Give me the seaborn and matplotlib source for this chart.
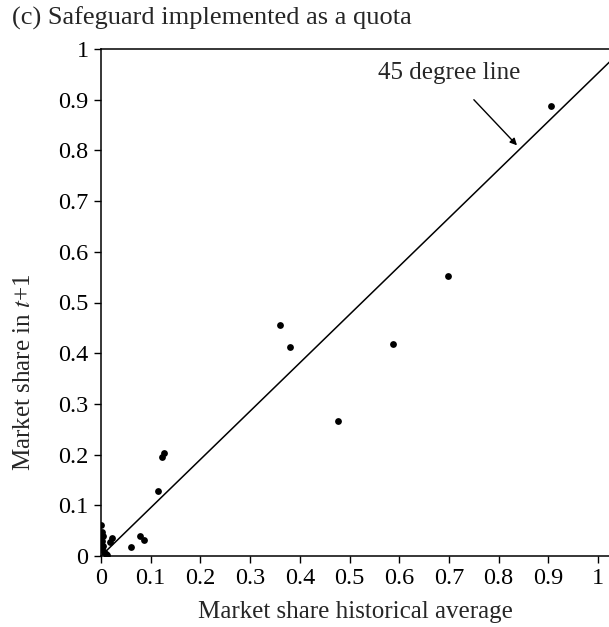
import matplotlib
matplotlib.use("Agg")
import matplotlib.pyplot as plt
import seaborn as sns
import numpy as np
import pandas as pd

hist_avg = [0.905, 0.698, 0.360, 0.381, 0.588, 0.477, 0.122, 0.126, 0.114,
            0.079, 0.086, 0.060,
            0.001, 0.002, 0.004, 0.002, 0.004, 0.006, 0.010, 0.018, 0.022, 0.003, 0.012]
share_next = [0.887, 0.553, 0.456, 0.413, 0.418, 0.267, 0.195, 0.203, 0.128,
              0.040, 0.031, 0.017,
              0.062, 0.048, 0.040, 0.030, 0.020, 0.008, 0.003, 0.028, 0.036, 0.015, 0.001]
line_x = [0.0, 1.05]
line_y = [0.0, 1.0]
ticks = [0, 0.1, 0.2, 0.3, 0.4, 0.5, 0.6, 0.7, 0.8, 0.9, 1]
tick_labels = ["0", "0.1", "0.2", "0.3", "0.4", "0.5", "0.6", "0.7", "0.8", "0.9", "1"]

sns.set_style("ticks")
plt.rcParams["font.family"] = ["Liberation Serif", "DejaVu Serif"]
plt.rcParams["mathtext.fontset"] = "stix"

df = pd.DataFrame({"x": hist_avg, "y": share_next})

fig = plt.figure(figsize=(6.09, 6.27), dpi=100)
ax = fig.add_axes([101/609, 71/627, 508/609, 507/627])

sns.lineplot(x=line_x, y=line_y, ax=ax, color="black", linewidth=1.1)
sns.scatterplot(data=df, x="x", y="y", ax=ax, color="black", s=24,
                edgecolor="black", linewidth=0)

ax.set_xlim(0, 508/497)
ax.set_ylim(0, 1)
ax.set_xticks(ticks)
ax.set_xticklabels(tick_labels)
ax.set_yticks(ticks)
ax.set_yticklabels(tick_labels)
ax.tick_params(axis="both", direction="out", length=5, width=1, labelsize=17.5,
               colors="black", pad=4)
for side in ["left", "bottom", "top"]:
    ax.spines[side].set_visible(True)
    ax.spines[side].set_color("black")
    ax.spines[side].set_linewidth(1.1)
ax.spines["right"].set_visible(False)

ax.set_xlabel("Market share historical average", fontsize=18)
ax.xaxis.label.set_va("center")
ax.xaxis.set_label_coords((355 - 101) / 508, (556 - 612) / 507)
ax.set_ylabel("Market share in $t$+1", fontsize=18)
ax.yaxis.label.set_va("center")
ax.yaxis.set_label_coords((24 - 101) / 508, (556 - 372) / 507)

ax.annotate("45 degree line", xy=(0.837, 0.81), xytext=(0.70, 0.952),
            ha="center", va="center", fontsize=18,
            arrowprops=dict(arrowstyle="-|>", color="black", lw=1,
                            mutation_scale=10, shrinkA=12, shrinkB=0))

fig.text(12/609, 1 - 18/627, "(c) Safeguard implemented as a quota",
         ha="left", va="center", fontsize=19)

fig.savefig("out.png", dpi=100, facecolor="white")
